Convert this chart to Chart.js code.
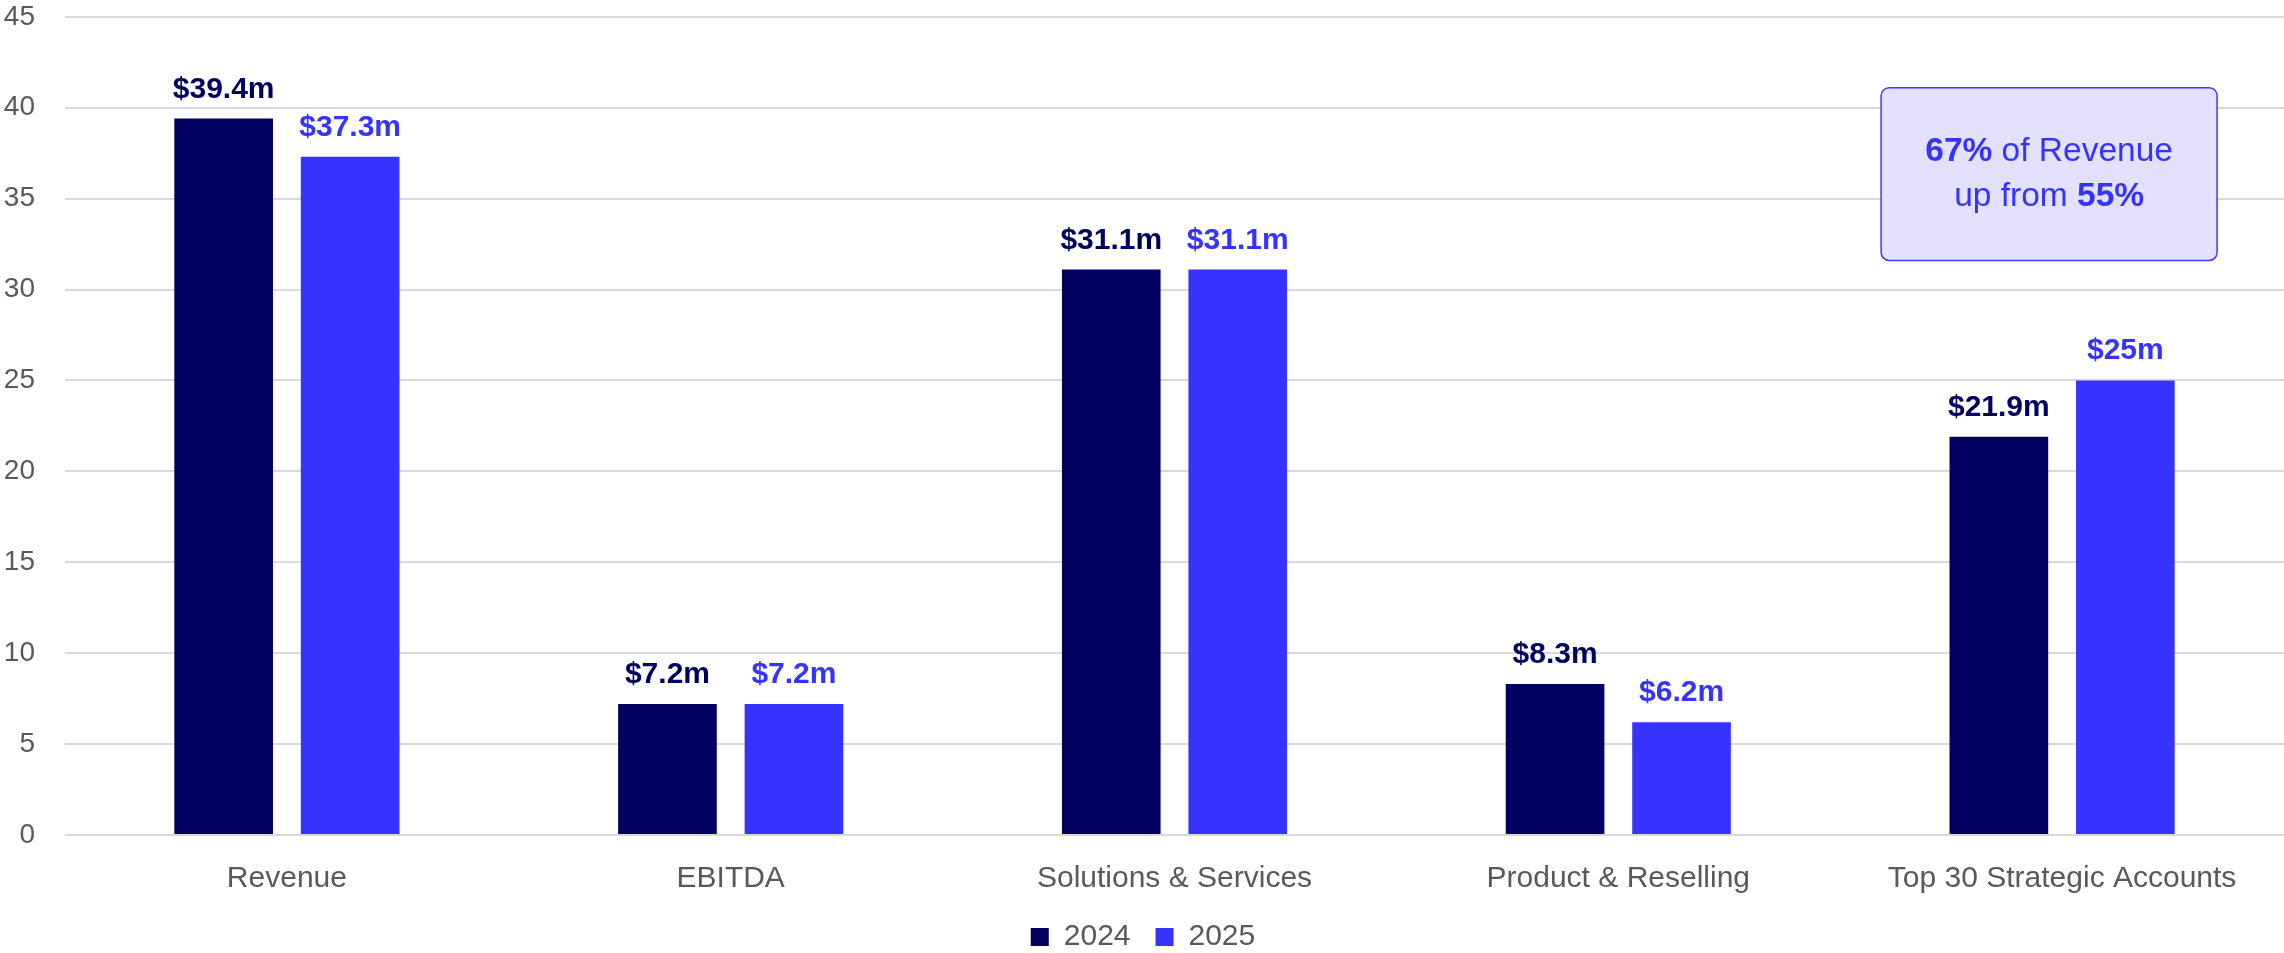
<!DOCTYPE html>
<html>
<head>
<meta charset="utf-8">
<script src="https://cdn.jsdelivr.net/npm/chart.js@4.4.1/dist/chart.umd.min.js"></script>
<style>
  html, body { margin: 0; padding: 0; background: #fff; }
  #wrap { width: 2284px; height: 953px; position: relative; }
</style>
</head>
<body>
<div id="wrap"><canvas id="financeChart"></canvas></div>
<script>
// Categories and yearly values ($m)
const categories = ['Revenue', 'EBITDA', 'Solutions & Services', 'Product & Reselling', 'Top 30 Strategic Accounts'];
const values2024 = [39.4, 7.2, 31.1, 8.3, 21.9];
const values2025 = [37.3, 7.2, 31.1, 6.2, 25];
const yTicks = [0, 5, 10, 15, 20, 25, 30, 35, 40, 45];

// Callout text, split into bold / regular runs per line
const calloutLines = [
    [{ text: '67%', bold: true }, { text: ' of Revenue', bold: false }],
    [{ text: 'up from ', bold: false }, { text: '55%', bold: true }]
];

const FONT = '"Liberation Sans", Arial, sans-serif';
const NAVY = '#000060';
const BLUE = '#3632FF';
const GREY = '#595959';

// Value labels drawn above each bar, in the bar's colour
const barLabels = {
    id: 'barLabels',
    afterDatasetsDraw(chart) {
        const ctx = chart.ctx;
        ctx.save();
        ctx.font = 'bold 30px ' + FONT;
        ctx.textAlign = 'center';
        ctx.textBaseline = 'alphabetic';
        chart.data.datasets.forEach((ds, i) => {
            const meta = chart.getDatasetMeta(i);
            ctx.fillStyle = ds.backgroundColor;
            meta.data.forEach((bar, j) => {
                ctx.fillText('$' + ds.data[j] + 'm', bar.x, bar.y - 21);
            });
        });
        ctx.restore();
    }
};

// Rounded callout box over the last category
const callout = {
    id: 'callout',
    afterDraw(chart) {
        const ctx = chart.ctx;
        const x = chart.scales.x, y = chart.scales.y;
        const cx = x.getPixelForValue(4) - 13;
        const w = 336;
        const top = y.getPixelForValue(41.1);
        const bottom = y.getPixelForValue(31.6);
        const left = cx - w / 2;
        ctx.save();
        ctx.beginPath();
        ctx.roundRect(left, top, w, bottom - top, 8);
        ctx.fillStyle = '#E3E1FE';
        ctx.fill();
        ctx.lineWidth = 1.5;
        ctx.strokeStyle = '#3F3BFF';
        ctx.stroke();

        ctx.fillStyle = BLUE;
        ctx.textBaseline = 'middle';
        ctx.textAlign = 'left';
        const mid = (top + bottom) / 2;
        const lineGap = 45;
        calloutLines.forEach((runs, li) => {
            let total = 0;
            runs.forEach(r => {
                ctx.font = (r.bold ? 'bold ' : '') + '33.5px ' + FONT;
                r.w = ctx.measureText(r.text).width;
                total += r.w;
            });
            let px = cx - total / 2;
            const py = mid + (li - 0.5) * lineGap;
            runs.forEach(r => {
                ctx.font = (r.bold ? 'bold ' : '') + '33.5px ' + FONT;
                ctx.fillText(r.text, px, py);
                px += r.w;
            });
        });
        ctx.restore();
    }
};

const ctx = document.getElementById('financeChart').getContext('2d');
const financeChart = new Chart(ctx, {
    type: 'bar',
    data: {
        labels: categories,
        datasets: [
            { label: '2024', data: values2024, backgroundColor: NAVY },
            { label: '2025', data: values2025, backgroundColor: BLUE }
        ]
    },
    options: {
        responsive: true,
        maintainAspectRatio: false,
        animation: false,
        categoryPercentage: 0.57,
        barPercentage: 0.78,
        layout: { padding: { top: 2, right: 0, left: 2, bottom: -9 } },
        plugins: {
            tooltip: { enabled: false },
            legend: {
                position: 'bottom',
                labels: {
                    boxWidth: 18,
                    boxHeight: 18,
                    padding: 25,
                    color: GREY,
                    font: { family: FONT, size: 30 }
                }
            }
        },
        scales: {
            x: {
                grid: { display: false, drawTicks: false },
                border: { display: false },
                ticks: { color: GREY, padding: 26, font: { family: FONT, size: 30 } },
                afterFit(axis) { axis.height -= 26; }
            },
            y: {
                min: 0,
                max: 45,
                afterBuildTicks(axis) { axis.ticks = yTicks.map(v => ({ value: v })); },
                afterFit(axis) { axis.width = 63; },
                grid: { color: '#D9D9D9', lineWidth: 2, drawTicks: true, tickLength: 30, tickColor: 'rgba(0,0,0,0)' },
                border: { display: false },
                ticks: { color: GREY, padding: 0, font: { family: FONT, size: 28 } }
            }
        }
    },
    plugins: [barLabels, callout]
});
</script>
</body>
</html>
